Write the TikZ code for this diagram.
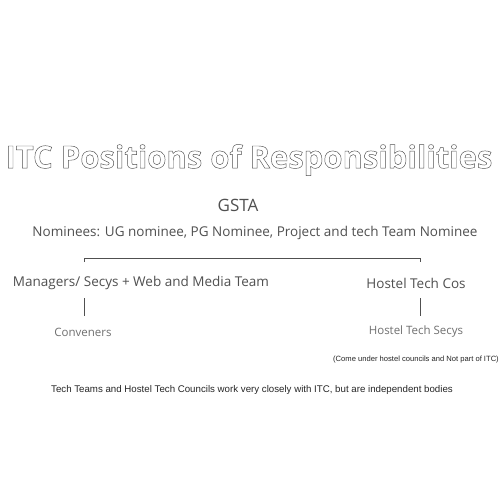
\documentclass[tikz,border=0pt]{standalone}
\usepackage{fontspec}
\setmainfont{Open Sans}
\newfontfamily\notefont{Liberation Sans}
\usetikzlibrary{positioning}
\definecolor{inkgray}{HTML}{505050}
\definecolor{softgray}{HTML}{707070}
% hollow letters for the heading
\newcommand{\hollow}[1]{\special{pdf:literal direct 1 Tr 0.45 w}#1\special{pdf:literal direct 0 Tr}}

\begin{document}
\begin{tikzpicture}[
  x=1pt, y=-1pt,
  every node/.style={inner sep=0pt, text=inkgray},
  rank/.style={font=\fontsize{13.5}{16}\selectfont},
  sub/.style={font=\fontsize{11.5}{13}\selectfont, text=softgray},
  note/.style={font=\notefont\fontsize{9.7}{11}\selectfont, text=black!85},
  link/.style={draw=inkgray, line width=0.6pt}
]
\useasboundingbox[fill=white] (0,0) rectangle (500,500);

\node (title) at (249,160) {\fontsize{31}{36}\selectfont\bfseries\hollow{ITC Positions of Responsibilities}};
\node[font=\fontsize{17}{20}\selectfont] (gsta) at (238,205) {GSTA};
\node[rank] (nom) at (255,233) {Nominees: UG nominee, PG Nominee, Project and tech Team Nominee};

\node[rank] (mgr) at (141,283) {Managers/ Secys + Web and Media Team};
\node[rank] (htc) at (416,283) {Hostel Tech Cos};

\node[sub] (conv) at (83,332) {Conveners};
\node[sub] (hts) at (416,332) {Hostel Tech Secys};
\node[note, font=\notefont\fontsize{7.6}{9}\selectfont] (hnote) at (416,360) {(Come under hostel councils and Not part of ITC)};
\node[note] (foot) at (252,390) {Tech Teams and Hostel Tech Councils work very closely with ITC, but are independent bodies};

% bracket over the two branches
\coordinate (brL) at (84,262);
\coordinate (brR) at (420,262);
\coordinate (topL) at (84,258);
\coordinate (topR) at (420,258);
\draw[link] (brL) -- (topL) -- (topR) -- (brR);

% drops to the lower rank
\coordinate (dropL1) at (84,298);
\coordinate (dropL2) at (84,316);
\coordinate (dropR1) at (420,298);
\coordinate (dropR2) at (420,316);
\draw[link] (dropL1) -- (dropL2);
\draw[link] (dropR1) -- (dropR2);
\end{tikzpicture}
\end{document}
